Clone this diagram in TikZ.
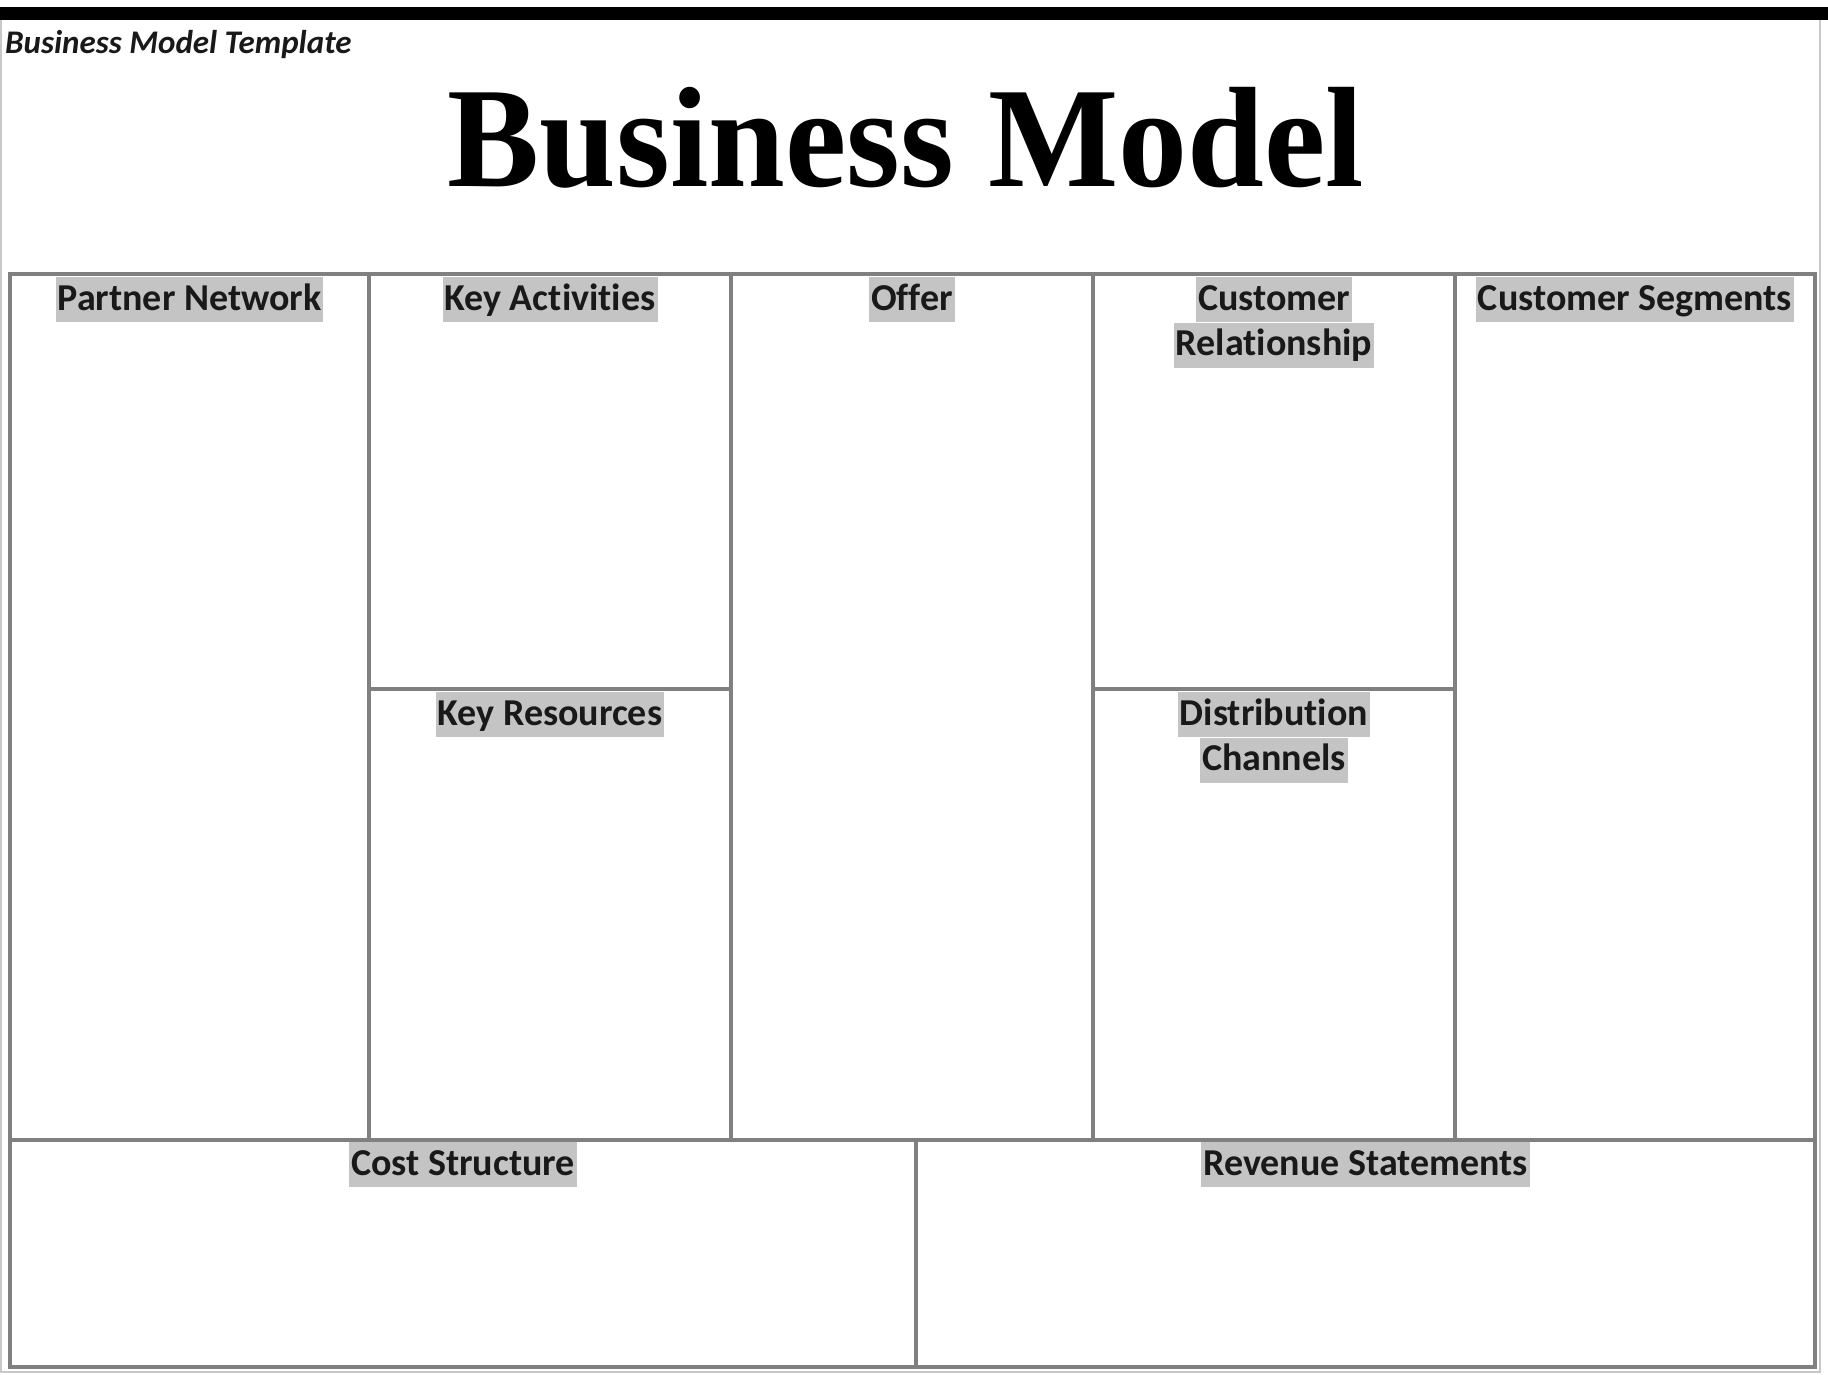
\documentclass[tikz,border=0pt]{standalone}
\usepackage{fontspec}
\setmainfont{Liberation Serif}
\newfontfamily\carlitofont{Carlito}[Ligatures=NoCommon, Contextuals=NoAlternate]
\usepackage{graphicx}
\definecolor{gridline}{RGB}{128,128,128}
\definecolor{hl}{RGB}{196,196,196}
\definecolor{frameline}{RGB}{200,200,200}
\definecolor{txt}{RGB}{25,25,25}
\tikzset{
  gridstroke/.style={draw=gridline, line width=4pt},
  lbl/.style={font=\carlitofont\bfseries\fontsize{38}{46}\selectfont, fill=hl, text=txt,
    inner xsep=2pt, inner ysep=0pt, text height=33pt, text depth=12pt, anchor=north},
}
\begin{document}
\begin{tikzpicture}[x=1pt,y=-1pt]
  \useasboundingbox (0,0) rectangle (1828,1374);
  \fill[white] (0,0) rectangle (1828,1374);
  % page frame and heavy top rule
  \draw[frameline, line width=2pt] (1,20) -- (1,1372) -- (1820,1372) -- (1820,20);
  \fill[black] (0,7) rectangle (1828,20);

  % headings
  \node[anchor=base west, font=\carlitofont\bfseries\itshape\fontsize{33}{38}\selectfont, text=txt, inner sep=0pt]
    (tpl) at (5,53) {Business Model Template};
  \node[anchor=base, inner sep=0pt] (title) at (906,186)
    {\scalebox{0.965}[1]{\bfseries\fontsize{143}{150}\selectfont Business Model}};

  % canvas grid
  \draw[gridstroke] (10,274) rectangle (1815,1367);
  \draw[gridstroke] (10,1140) -- (1815,1140);
  \draw[gridstroke] (369,274) -- (369,1140);
  \draw[gridstroke] (731,274) -- (731,1140);
  \draw[gridstroke] (1093,274) -- (1093,1140);
  \draw[gridstroke] (1455,274) -- (1455,1140);
  \draw[gridstroke] (369,689) -- (731,689);
  \draw[gridstroke] (1093,689) -- (1455,689);
  \draw[gridstroke] (916,1140) -- (916,1367);

  % block headings
  \node[lbl] (pn) at (189.5,277) {Partner Network};
  \node[lbl] (ka) at (550,277) {Key Activities};
  \node[lbl] (of) at (912,277) {Offer};
  \node[lbl] (cr1) at (1274,277) {Customer};
  \node[lbl] (cr2) at (cr1.south) {Relationship};
  \node[lbl] (cs) at (1635,277) {Customer Segments};
  \node[lbl] (kr) at (550,692) {Key Resources};
  \node[lbl] (dc1) at (1274,692) {Distribution};
  \node[lbl] (dc2) at (dc1.south) {Channels};
  \node[lbl] (co) at (463,1142) {Cost Structure};
  \node[lbl] (rv) at (1365.5,1142) {Revenue Statements};
\end{tikzpicture}
\end{document}
